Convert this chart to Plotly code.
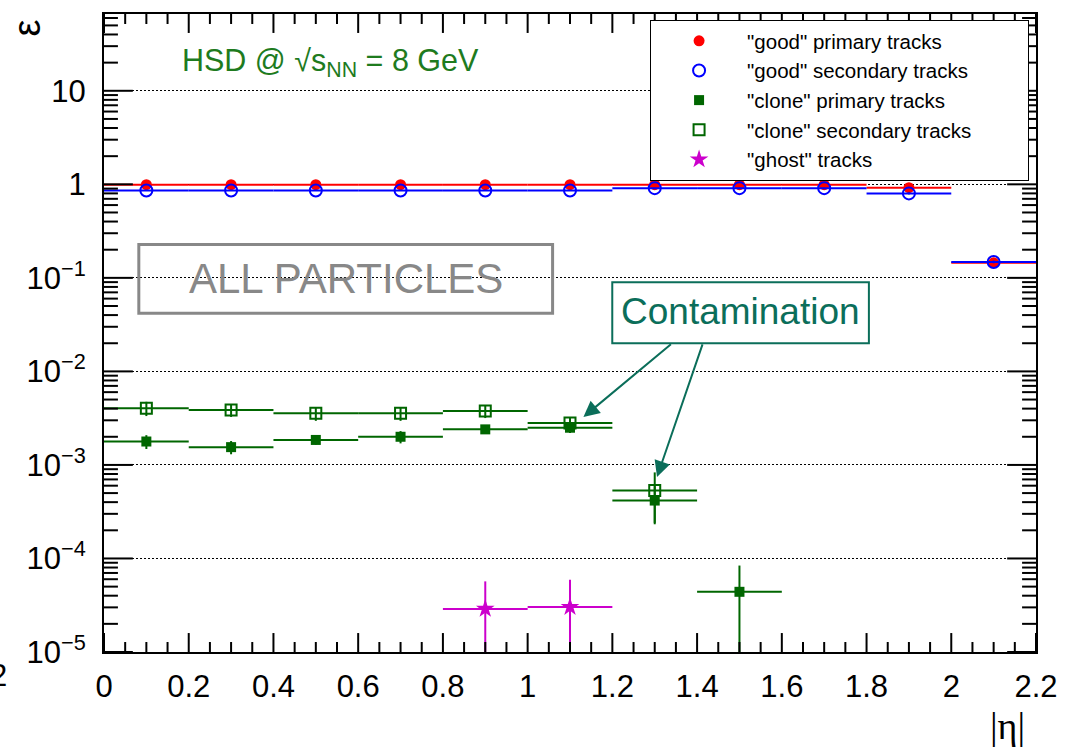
import math
import plotly.graph_objects as go

# ---------------- data ----------------
eta_all = [0.1, 0.3, 0.5, 0.7, 0.9, 1.1, 1.3, 1.5, 1.7, 1.9, 2.1]
good_prim = [0.99, 0.99, 0.99, 0.99, 0.99, 0.99, 0.99, 0.99, 0.99, 0.92, 0.145]
good_prim_err = [0.005, 0.005, 0.005, 0.005, 0.005, 0.005, 0.005, 0.005, 0.005, 0.01, 0.005]
good_sec = [0.86, 0.86, 0.86, 0.86, 0.86, 0.86, 0.91, 0.91, 0.91, 0.80, 0.148]
good_sec_err = [0.01, 0.01, 0.01, 0.01, 0.01, 0.01, 0.01, 0.01, 0.01, 0.02, 0.005]

eta_clone_prim = [0.1, 0.3, 0.5, 0.7, 0.9, 1.1, 1.3, 1.5]
clone_prim = [0.00178, 0.00155, 0.00185, 0.0020, 0.0024, 0.0025, 0.000416, 0.000044]
clone_prim_err = [0.00030, 0.00025, 0.00020, 0.00030, 0.00020, 0.00030, 0.000176, 0.000040]

eta_clone_sec = [0.1, 0.3, 0.5, 0.7, 0.9, 1.1, 1.3]
clone_sec = [0.00403, 0.00386, 0.00356, 0.00356, 0.00377, 0.0028, 0.000532]
clone_sec_err = [0.0007, 0.0006, 0.0006, 0.0006, 0.0006, 0.0004, 0.0003]

eta_ghost = [0.9, 1.1]
ghost = [2.89e-5, 3.03e-5]
ghost_err = [2.8e-5, 2.9e-5]

bin_half = 0.1

legend_names = ['"good" primary tracks', '"good" secondary tracks', '"clone" primary tracks',
                '"clone" secondary tracks', '"ghost" tracks']

x_major = [0, 0.2, 0.4, 0.6, 0.8, 1.0, 1.2, 1.4, 1.6, 1.8, 2.0, 2.2]
x_ticktext = ["0", "0.2", "0.4", "0.6", "0.8", "1", "1.2", "1.4", "1.6", "1.8", "2", "2.2"]
x_minor_step = 0.05

y_ticks = [1e-5, 1e-4, 1e-3, 1e-2, 1e-1, 1, 10]
y_ticktext = ["10<sup>−5</sup>", "10<sup>−4</sup>", "10<sup>−3</sup>", "10<sup>−2</sup>",
              "10<sup>−1</sup>", "1", "10"]
y_minor_digits = [2, 3, 4, 5, 6, 7, 8, 9]

# ---------------- layout geometry ----------------
W, H = 1070, 748
L, R, T, B = 104, 1041, 13, 652.5
PW, PH = R - L, B - T
X_RANGE = [0, 2.2]
Y_RANGE_LOG = [-5, 1.821]
FONT = "Liberation Sans, Arial, Helvetica, sans-serif"


def px(xp):
    return (xp - L) / PW


def py(yp):
    return (B - yp) / PH


def y_frac(v):
    return (math.log10(v) - Y_RANGE_LOG[0]) / (Y_RANGE_LOG[1] - Y_RANGE_LOG[0])


RED = "#ff0000"
BLUE = "#0000ff"
GREEN = "#006600"
MAGENTA = "#cc00cc"
TEAL = "#0b6e5a"
GRAY = "#888888"

PAD = "\u00a0" * 9

fig = go.Figure()


def add_series(x, y, ey, name, color, symbol, size, lw=0):
    fig.add_trace(go.Scatter(
        x=x, y=y, mode="markers", name=name + PAD,
        marker=dict(symbol=symbol, size=size, color=color,
                    line=dict(color=color, width=lw)),
        error_x=dict(type="constant", value=bin_half, color=color, thickness=2, width=0),
        error_y=dict(type="data", array=ey, color=color, thickness=2, width=0),
    ))


add_series(eta_all, good_prim, good_prim_err, legend_names[0], RED, "circle", 11)
add_series(eta_all, good_sec, good_sec_err, legend_names[1], BLUE, "circle-open", 12, 2)
add_series(eta_clone_prim, clone_prim, clone_prim_err, legend_names[2], GREEN, "square", 10)
add_series(eta_clone_sec, clone_sec, clone_sec_err, legend_names[3], GREEN, "square-open", 11, 2)
add_series(eta_ghost, ghost, ghost_err, legend_names[4], MAGENTA, "star", 14)

shapes = [
    dict(type="rect", xref="paper", yref="paper", x0=px(139), x1=px(555), y0=py(313), y1=py(244),
         line=dict(color=GRAY, width=3), fillcolor="rgba(0,0,0,0)"),
    dict(type="rect", xref="paper", yref="paper", x0=px(615), x1=px(873), y0=py(343), y1=py(282),
         line=dict(color=TEAL, width=2), fillcolor="white"),
]

# ---- ROOT-style inside ticks on all four sides ----
X_MAJ_LEN, X_MIN_LEN = 19, 10
Y_MAJ_LEN, Y_MIN_LEN = 29, 14
TICK_W = 2


def xtick(xv, length):
    for y0, y1 in ((0, length / PH), (1, 1 - length / PH)):
        shapes.append(dict(type="line", xref="x", yref="paper", x0=xv, x1=xv, y0=y0, y1=y1,
                           layer="above", line=dict(color="#000000", width=TICK_W)))


def ytick(yv, length):
    f = y_frac(yv)
    if f < -1e-9 or f > 1 + 1e-9:
        return
    for x0, x1 in ((0, length / PW), (1, 1 - length / PW)):
        shapes.append(dict(type="line", xref="paper", yref="paper", x0=x0, x1=x1, y0=f, y1=f,
                           layer="above", line=dict(color="#000000", width=TICK_W)))


n_minor = int(round((X_RANGE[1] - X_RANGE[0]) / x_minor_step))
for i in range(n_minor + 1):
    xv = round(X_RANGE[0] + i * x_minor_step, 6)
    is_major = any(abs(xv - m) < 1e-6 for m in x_major)
    xtick(xv, X_MAJ_LEN if is_major else X_MIN_LEN)

for yv in y_ticks:
    ytick(yv, Y_MAJ_LEN)
    for d in y_minor_digits:
        ytick(d * yv, Y_MIN_LEN)

annotations = [
    dict(text="HSD @ √s<sub>NN</sub> = 8 GeV", xref="paper", yref="paper", x=px(180), y=py(62),
         xanchor="left", yanchor="middle", showarrow=False, font=dict(family=FONT, size=30.5, color="#1e7b1e")),
    dict(text="ALL PARTICLES", xref="paper", yref="paper", x=px(347), y=py(278),
         xanchor="center", yanchor="middle", showarrow=False, font=dict(family=FONT, size=42, color=GRAY)),
    dict(text="Contamination", xref="paper", yref="paper", x=px(744), y=py(311),
         xanchor="center", yanchor="middle", showarrow=False, font=dict(family=FONT, size=37, color=TEAL)),
    dict(text="", xref="paper", yref="paper", x=px(586), y=py(417), ax=675 - 586, ay=343 - 417,
         showarrow=True, arrowhead=2, arrowsize=1.6, arrowwidth=2, arrowcolor=TEAL),
    dict(text="", xref="paper", yref="paper", x=px(660), y=py(477), ax=706 - 660, ay=343 - 477,
         showarrow=True, arrowhead=2, arrowsize=1.6, arrowwidth=2, arrowcolor=TEAL),
    dict(text="ε", xref="paper", yref="paper", x=px(27), y=py(27), textangle=-90,
         xanchor="center", yanchor="middle", showarrow=False, font=dict(family=FONT, size=38, color="black")),
    dict(text="|η|", xref="paper", yref="paper", x=px(1032), y=py(727),
         xanchor="right", yanchor="middle", showarrow=False,
         font=dict(family="Liberation Serif, serif", size=38, color="black")),
    dict(text="2", xref="paper", yref="paper", x=px(8), y=py(676),
         xanchor="right", yanchor="middle", showarrow=False, font=dict(family=FONT, size=31, color="black")),
]

fig.update_layout(
    width=W, height=H,
    margin=dict(l=L, r=W - R, t=T, b=H - B, pad=0),
    paper_bgcolor="white", plot_bgcolor="white",
    font=dict(family=FONT, size=31, color="black"),
    shapes=shapes, annotations=annotations,
    showlegend=True,
    legend=dict(x=px(653), y=py(19), xanchor="left", yanchor="top",
                bgcolor="white", bordercolor="black", borderwidth=1,
                font=dict(family=FONT, size=20.5, color="black"),
                itemwidth=86, tracegroupgap=0),
)

fig.update_xaxes(
    range=X_RANGE, tickmode="array", tickvals=x_major, ticktext=x_ticktext,
    ticks="", showline=True, linecolor="black", linewidth=2, mirror=True,
    showgrid=False, zeroline=False, ticklabelstandoff=6,
    tickfont=dict(family=FONT, size=31),
)
fig.update_yaxes(
    type="log", range=Y_RANGE_LOG, tickmode="array", tickvals=y_ticks, ticktext=y_ticktext,
    ticks="", showline=True, linecolor="black", linewidth=2, mirror=True,
    showgrid=True, gridcolor="black", gridwidth=1, griddash="1.5px,2.5px",
    zeroline=False, ticklabelstandoff=10,
    tickfont=dict(family=FONT, size=31),
)

fig.write_html("out.html")
